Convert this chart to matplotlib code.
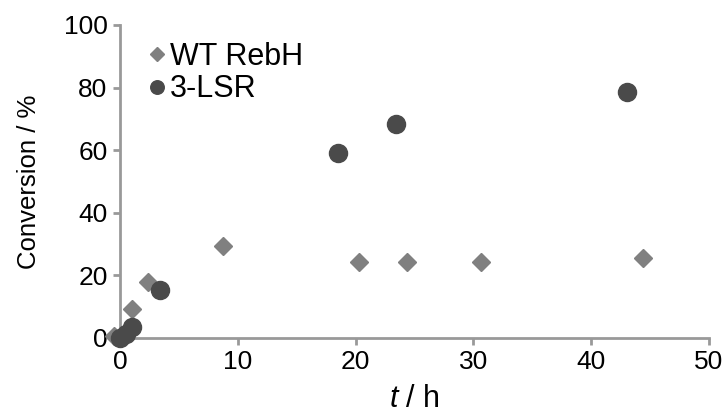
import matplotlib
matplotlib.use("Agg")
import matplotlib.pyplot as plt

plt.rcParams['font.family'] = ['Liberation Sans', 'DejaVu Sans']
plt.rcParams['mathtext.fontset'] = 'custom'
plt.rcParams['mathtext.it'] = 'Liberation Sans:italic'
plt.rcParams['mathtext.rm'] = 'Liberation Sans'

# WT RebH (diamonds)
wt_t = [-0.5, 1.0, 2.4, 8.7, 20.3, 24.4, 30.6, 44.4]
wt_conv = [0.6, 9.3, 17.9, 29.4, 24.3, 24.3, 24.3, 25.6]

# 3-LSR (circles)
lsr_t = [0.0, 0.5, 1.0, 3.4, 18.5, 23.4, 43.0]
lsr_conv = [0.0, 1.2, 3.5, 15.3, 59.1, 68.4, 78.6]

x_ticks = [0, 10, 20, 30, 40, 50]
y_ticks = [0, 20, 40, 60, 80, 100]

fig = plt.figure(figsize=(7.23, 4.18), dpi=100)
ax = fig.add_axes([0.166, 0.1914, 0.8147, 0.749])

ax.plot(wt_t, wt_conv, linestyle='none', marker='D', markersize=9,
        color='#808080', label='WT RebH', clip_on=False, zorder=3)
ax.plot(lsr_t, lsr_conv, linestyle='none', marker='o', markersize=13,
        color='#4a4a4a', label='3-LSR', clip_on=False, zorder=4)

ax.set_xlim(0, 50)
ax.set_ylim(0, 100)
ax.set_xticks(x_ticks)
ax.set_yticks(y_ticks)

for side in ['top', 'right']:
    ax.spines[side].set_visible(False)
for side in ['left', 'bottom']:
    ax.spines[side].set_color('#999999')
    ax.spines[side].set_linewidth(2)
ax.tick_params(axis='both', direction='out', length=5, width=2,
               color='#999999', labelsize=19, pad=4)

ax.set_ylabel('Conversion / %', fontsize=18.5, labelpad=16)
ax.set_xlabel('$t$ / h', fontsize=22, labelpad=7)

fig.legend(loc='upper left', bbox_to_anchor=(148 / 723, 1 - 42 / 418),
           frameon=False, fontsize=22, handletextpad=0.13, handlelength=0.6,
           borderaxespad=0, borderpad=0, labelspacing=0.08, markerscale=0.75)

fig.savefig('out.png', dpi=100)
